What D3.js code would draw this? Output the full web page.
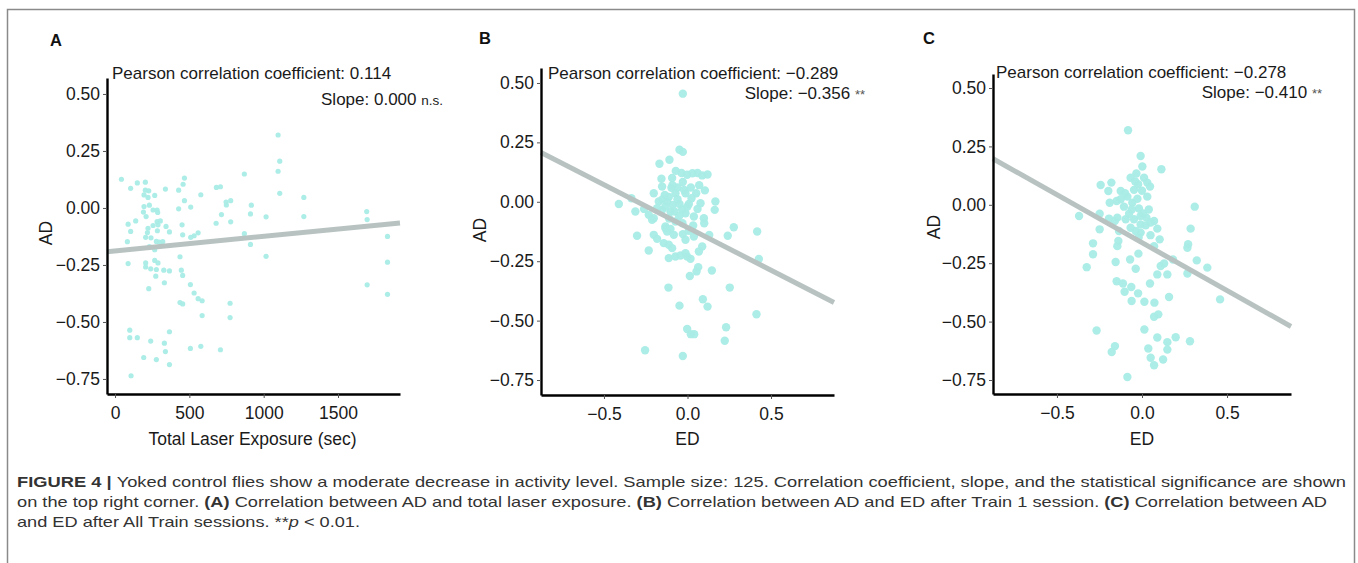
<!DOCTYPE html>
<html><head><meta charset="utf-8">
<script src="https://cdn.jsdelivr.net/npm/d3@7"></script>
<style>
html,body{margin:0;padding:0;background:#fff;}
svg{display:block;font-family:"Liberation Sans",Arial,Helvetica,sans-serif;}
</style></head>
<body><svg id="fig" width="1358" height="563"></svg>
<script>
// ---------- data ----------
const aX = [1097,1108,1097,1108,870,43,150,204,105,204,227,339,428,467,458,195,222,267,577,682,709,467,509,428,195,231,191,256,283,287,209,139,88,256,283,305,289,222,343,366,285,218,451,455,509,532,559,105,83,206,242,278,298,321,231,267,747,778,749,716,680,778,917,911,1016,1270,1270,870,911,1016,1693,1696,1833,1833,1696,1833,437,88,206,267,289,206,240,278,328,366,446,455,274,332,227,507,532,559,586,437,455,774,774,586,99,99,150,366,240,332,339,193,278,366,507,577,709,108];
const aY = [0.32,0.205,0.161,0.064,0.149,0.126,0.110,0.113,0.086,0.078,0.075,0.083,0.078,0.131,0.104,0.057,0.046,0.055,0.058,0.090,0.093,0.032,0.004,-0.004,0.006,0.012,-0.018,-0.009,-0.009,-0.020,-0.038,-0.057,-0.071,-0.077,-0.060,-0.057,-0.074,-0.089,-0.081,-0.105,-0.100,-0.108,-0.074,-0.118,-0.129,-0.122,-0.109,-0.103,-0.148,-0.129,-0.131,-0.147,-0.150,-0.148,-0.169,-0.183,0.026,0.032,0.013,-0.029,-0.067,-0.061,0.012,-0.026,-0.039,0.046,-0.038,-0.113,-0.160,-0.212,-0.016,-0.051,-0.125,-0.238,-0.337,-0.379,-0.214,-0.244,-0.241,-0.230,-0.241,-0.259,-0.267,-0.270,-0.273,-0.276,-0.273,-0.296,-0.299,-0.328,-0.354,-0.336,-0.373,-0.398,-0.407,-0.415,-0.421,-0.418,-0.481,-0.472,-0.536,-0.569,-0.569,-0.543,-0.584,-0.593,-0.630,-0.656,-0.665,-0.687,-0.616,-0.607,-0.622,-0.736];

const bX = [-0.028,-0.048,-0.028,-0.108,-0.168,-0.036,-0.002,0.060,0.088,-0.156,-0.092,-0.028,-0.152,-0.096,-0.202,-0.136,-0.072,-0.012,0.052,0.104,0.167,0.163,0.078,-0.411,-0.312,-0.336,-0.172,-0.122,-0.088,-0.048,0.008,-0.152,-0.102,-0.232,-0.202,-0.012,0.038,0.098,-0.132,0.277,0.417,0.034,-0.072,-0.112,-0.060,-0.032,-0.132,-0.078,-0.182,0.024,-0.212,
  -0.302,-0.202,-0.182,-0.132,-0.122,-0.082,-0.028,-0.012,0.038,0.241,-0.142,-0.112,-0.092,-0.232,-0.112,-0.072,-0.042,-0.002,0.018,-0.012,0.088,0.068,0.064,0.054,0.014,0.146,0.427,-0.114,0.253,-0.048,0.092,0.120,0.413,-0.002,0.020,0.040,0.231,0.223,-0.254,-0.028,-0.102,0.008,
  -0.06,-0.02,0.02,-0.09,0.07,-0.15,-0.05,0.0,0.06,-0.11,-0.03,0.10,0.13,-0.07,0.03,0.12,-0.26];
const bY = [0.455,0.219,0.210,0.177,0.160,0.121,0.114,0.121,0.111,0.097,0.100,0.083,0.064,0.059,0.036,0.029,0.036,0.036,0.036,0.048,0.001,-0.034,-0.006,-0.009,-0.041,0.015,0.001,0.001,-0.013,-0.009,-0.009,-0.034,-0.041,-0.055,-0.069,-0.048,-0.062,-0.069,-0.104,-0.107,-0.125,-0.100,-0.083,0.020,0.011,-0.031,-0.020,-0.041,-0.027,0.015,-0.076,
  -0.143,-0.139,-0.156,-0.111,-0.125,-0.139,-0.136,-0.160,-0.146,-0.143,-0.174,-0.181,-0.195,-0.205,-0.237,-0.230,-0.226,-0.230,-0.240,-0.216,-0.188,-0.209,-0.275,-0.293,-0.312,-0.289,-0.241,-0.361,-0.361,-0.437,-0.410,-0.441,-0.473,-0.535,-0.557,-0.557,-0.528,-0.585,-0.625,-0.649,-0.114,-0.122,
  0.06,0.05,0.06,0.07,0.07,0.01,-0.06,-0.02,-0.03,-0.07,-0.09,-0.09,-0.14,0.13,0.12,0.115,-0.03];

const cX = [-0.082,-0.008,0.002,0.114,-0.033,-0.067,0.012,0.031,0.047,-0.243,-0.180,-0.198,-0.125,-0.047,-0.086,0.031,0.310,-0.190,-0.149,-0.106,-0.057,-0.018,-0.370,-0.249,-0.194,-0.145,-0.096,-0.047,-0.008,0.026,0.071,0.090,0.286,-0.249,-0.067,-0.008,-0.139,0.104,-0.288,-0.145,0.071,0.271,0.267,-0.288,-0.021,-0.070,-0.155,0.110,0.130,0.182,0.322,0.384,-0.325,-0.037,0.090,0.149,0.267,-0.149,-0.112,0.047,-0.063,-0.102,-0.023,0.159,0.459,-0.061,0.014,0.073,0.071,0.096,-0.267,0.014,0.090,0.149,0.198,0.282,-0.159,-0.178,0.037,0.149,0.051,0.124,0.071,-0.086,-0.076,-0.008,-0.037,-0.027,-0.023,0.022,-0.135,-0.125,0.051,0.006,
  -0.10,-0.04,0.0,-0.06,0.04,-0.16,-0.02,0.05];
const cY = [0.319,0.209,0.164,0.152,0.134,0.116,0.116,0.095,0.078,0.085,0.095,0.059,0.059,0.064,0.035,0.035,-0.008,0.009,0.016,-0.008,0.009,-0.016,-0.048,-0.038,-0.059,-0.055,-0.062,-0.062,-0.048,-0.055,-0.069,-0.102,-0.102,-0.105,-0.098,-0.119,-0.155,-0.148,-0.165,-0.177,-0.177,-0.169,-0.184,-0.212,-0.209,-0.234,-0.245,-0.262,-0.251,-0.234,-0.238,-0.269,-0.267,-0.274,-0.298,-0.298,-0.294,-0.327,-0.337,-0.337,-0.352,-0.372,-0.379,-0.395,-0.405,-0.412,-0.415,-0.419,-0.479,-0.469,-0.538,-0.534,-0.568,-0.588,-0.567,-0.584,-0.605,-0.630,-0.615,-0.620,-0.655,-0.662,-0.687,-0.737,-0.038,-0.084,-0.112,0.026,0.088,-0.088,-0.112,0.024,-0.076,-0.037,
  0.05,0.10,0.06,-0.02,-0.02,-0.07,-0.14,-0.13];

// fitted lines [slope, intercept]
const fitA = [0.000064, -0.1885];
const fitB = [-0.36, -0.108];
const fitC = [-0.41, -0.162];

const yTicks = [0.5, 0.25, 0, -0.25, -0.5, -0.75];
const yTickLabels = ["0.50","0.25","0.00","\u22120.25","\u22120.50","\u22120.75"];
const aXTicks = [0, 500, 1000, 1500];
const aXTickLabels = ["0","500","1000","1500"];
const edTicks = [-0.5, 0, 0.5];
const edTickLabels = ["\u22120.5","0.0","0.5"];

const panelLetters = ["A","B","C"];
const pearson = ["0.114","\u22120.289","\u22120.278"];
const slopes = ["0.000","\u22120.356","\u22120.410"];
const signif = ["n.s.","**","**"];
const xTitles = ["Total Laser Exposure (sec)","ED","ED"];

// ---------- layout ----------
const panels = [
  {x:aX, y:aY, fit:fitA, xd:[-54,1917], yd:[0.570,-0.816], l:107, r:400, t:78, b:394, xt:aXTicks, xtl:aXTickLabels, rad:2.6,
   letter:[50,46], ylab:[52,233], p1:[112,79], p2:[443,105]},
  {x:bX, y:bY, fit:fitB, xd:[-0.877,0.877], yd:[0.563,-0.813], l:541, r:834, t:68, b:395, xt:edTicks, xtl:edTickLabels, rad:4.2,
   letter:[479,44], ylab:[486,230], p1:[548,79], p2:[865,99]},
  {x:cX, y:cY, fit:fitC, xd:[-0.876,0.876], yd:[0.560,-0.810], l:993, r:1291, t:74, b:394, xt:edTicks, xtl:edTickLabels, rad:4.2,
   letter:[923,44], ylab:[940,227], p1:[996,78], p2:[1322,98]}
];

const svg = d3.select("#fig");
// frame
svg.append("rect").attr("x",7.5).attr("y",9.5).attr("width",1347).attr("height",560)
  .attr("fill","none").attr("stroke","#8a8a8a").attr("stroke-width",1.5);

const ptColor = "#a9ece6", lineColor = "#b8c3c1", txt = "#1a1a1a";

panels.forEach((p,i)=>{
  const g = svg.append("g");
  const xs = d3.scaleLinear().domain(p.xd).range([p.l,p.r]);
  const ys = d3.scaleLinear().domain(p.yd).range([p.t,p.b]);

  // points
  g.append("g").selectAll("circle").data(d3.range(p.x.length)).join("circle")
    .attr("cx",k=>xs(p.x[k])).attr("cy",k=>ys(p.y[k])).attr("r",p.rad)
    .attr("fill",ptColor).attr("fill-opacity",0.95);

  // regression line
  const lx = p.xd;
  g.append("line").attr("x1",xs(lx[0])).attr("y1",ys(p.fit[0]*lx[0]+p.fit[1]))
    .attr("x2",xs(lx[1])).attr("y2",ys(p.fit[0]*lx[1]+p.fit[1]))
    .attr("stroke",lineColor).attr("stroke-width",5);

  // axes
  const ax = d3.axisBottom(xs).tickValues(p.xt).tickFormat((d,k)=>p.xtl[k]).tickSizeInner(4).tickSizeOuter(0).tickPadding(5);
  const ay = d3.axisLeft(ys).tickValues(yTicks).tickFormat((d,k)=>yTickLabels[k]).tickSizeInner(4).tickSizeOuter(0).tickPadding(3);
  const gx = g.append("g").attr("transform",`translate(0,${p.b})`).call(ax);
  const gy = g.append("g").attr("transform",`translate(${p.l},0)`).call(ay);
  [gx,gy].forEach(a=>{
    a.select(".domain").attr("stroke","#000").attr("stroke-width",2.4);
    a.selectAll(".tick line").attr("stroke","#555").attr("stroke-width",1);
    a.selectAll(".tick text").attr("fill",txt).attr("font-size",17.5)
      .attr("font-family",'"Liberation Sans",Arial,sans-serif');
  });
  gx.selectAll(".tick text").attr("dy","0.9em");

  // axis titles
  g.append("text").attr("x",(p.l+p.r)/2 + (i==0?-1:0)).attr("y",445).attr("text-anchor","middle")
    .attr("font-size",17.5).attr("fill",txt).text(xTitles[i]);
  g.append("text").attr("transform",`translate(${p.ylab[0]},${p.ylab[1]}) rotate(-90)`)
    .attr("text-anchor","middle").attr("font-size",17.5).attr("fill",txt).text("AD");

  // panel letter
  g.append("text").attr("x",p.letter[0]).attr("y",p.letter[1]).attr("font-size",16.5)
    .attr("font-weight","bold").attr("fill","#111").text(panelLetters[i]);

  // annotations
  g.append("text").attr("x",p.p1[0]).attr("y",p.p1[1]).attr("font-size",17).attr("fill",txt)
    .text("Pearson correlation coefficient: " + pearson[i]);
  const t2 = g.append("text").attr("x",p.p2[0]).attr("y",p.p2[1]).attr("text-anchor","end")
    .attr("font-size",17).attr("fill",txt);
  t2.append("tspan").text("Slope: " + slopes[i] + " ");
  t2.append("tspan").attr("font-size",i==0?13.5:13).attr("fill",i==0?txt:"#555").text(signif[i]);
});

// ---------- caption ----------
const capLines = [
  [["b","FIGURE 4 | "],["n","Yoked control flies show a moderate decrease in activity level. Sample size: 125. Correlation coefficient, slope, and the statistical significance are shown"]],
  [["n","on the top right corner. "],["b","(A)"],["n"," Correlation between AD and total laser exposure. "],["b","(B)"],["n"," Correlation between AD and ED after Train 1 session. "],["b","(C)"],["n"," Correlation between AD"]],
  [["n","and ED after All Train sessions. **"],["i","p"],["n"," < 0.01."]]
];
const capWidths = [1329, 1310, 343];
const capY = [487, 507, 527];
capLines.forEach((line,k)=>{
  const t = svg.append("text").attr("x",17).attr("y",capY[k]).attr("font-size",14.5)
    .attr("fill","#333").attr("font-family",'"Liberation Sans",Arial,sans-serif');
  line.forEach(([s,str])=>{
    const sp = t.append("tspan").text(str);
    if(s==="b") sp.attr("font-weight","bold");
    if(s==="i") sp.attr("font-style","italic");
  });
  t.attr("textLength",capWidths[k]).attr("lengthAdjust","spacingAndGlyphs");
});
</script></body></html>
